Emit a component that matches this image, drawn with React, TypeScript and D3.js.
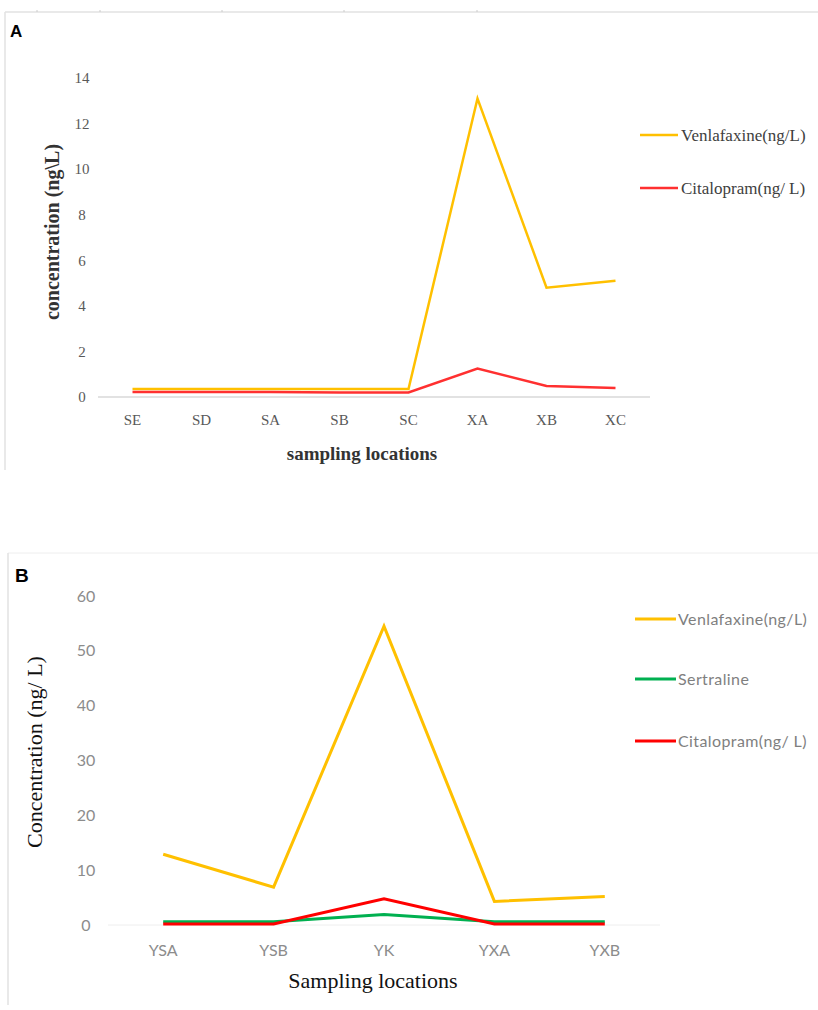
import React, { useEffect, useRef } from 'react';
import * as d3 from 'd3';

const width = 818;
const height = 1010;

// panel A data
const sitesA = ['SE', 'SD', 'SA', 'SB', 'SC', 'XA', 'XB', 'XC'];
const venlafaxineA = [0.35, 0.35, 0.35, 0.35, 0.35, 13.1, 4.8, 5.1];
const citalopramA = [0.22, 0.22, 0.22, 0.2, 0.2, 1.25, 0.48, 0.4];
const ticksA = [0, 2, 4, 6, 8, 10, 12, 14];

// panel B data
const sitesB = ['YSA', 'YSB', 'YK', 'YXA', 'YXB'];
const venlafaxineB = [12.9, 6.9, 54.5, 4.3, 5.2];
const sertralineB = [0.6, 0.6, 1.9, 0.6, 0.6];
const citalopramB = [0.2, 0.2, 4.8, 0.2, 0.2];
const ticksB = [0, 10, 20, 30, 40, 50, 60];

const App = () => {
  const ref = useRef<SVGSVGElement>(null);

  useEffect(() => {
    if (!ref.current) return;
    const svg = d3.select(ref.current);
    svg.selectAll('*').remove();

    // frame lines
    svg.append('line').attr('x1', 5).attr('x2', width).attr('y1', 12).attr('y2', 12)
      .attr('stroke', '#e2e2e2').attr('stroke-width', 1.5);
    svg.append('line').attr('x1', 5).attr('x2', 5).attr('y1', 12).attr('y2', 470)
      .attr('stroke', '#e2e2e2').attr('stroke-width', 1.5);
    [37, 100, 222, 344, 477].forEach(x => {
      svg.append('line').attr('x1', x).attr('x2', x).attr('y1', 10).attr('y2', 12)
        .attr('stroke', '#cccccc');
    });
    svg.append('line').attr('x1', 8).attr('x2', width).attr('y1', 553).attr('y2', 553)
      .attr('stroke', '#eeeeee').attr('stroke-width', 1);
    svg.append('line').attr('x1', 8).attr('x2', 8).attr('y1', 553).attr('y2', 1005)
      .attr('stroke', '#e2e2e2').attr('stroke-width', 1.5);

    // ---------- Panel A ----------
    svg.append('text').attr('x', 10).attr('y', 37).text('A')
      .attr('font-family', 'Liberation Sans, Arial, sans-serif').attr('font-weight', 'bold')
      .attr('font-size', 17);

    const xA = d3.scaleBand().domain(sitesA).range([98, 650]);
    const yA = d3.scaleLinear().domain([0, 14]).range([397, 78]);

    svg.append('line').attr('x1', 98).attr('x2', 650).attr('y1', yA(0)).attr('y2', yA(0))
      .attr('stroke', '#d9d9d9').attr('stroke-width', 1.5);

    const gA = svg.append('g').attr('font-family', 'Liberation Serif, serif')
      .attr('font-size', 15).attr('fill', '#595959');
    gA.selectAll('text.ty').data(ticksA).enter().append('text')
      .attr('x', 82).attr('y', d => yA(d)).attr('dy', '0.35em')
      .attr('text-anchor', 'middle').text(d => d);
    gA.selectAll('text.tx').data(sitesA).enter().append('text')
      .attr('x', d => (xA(d) as number) + xA.bandwidth() / 2).attr('y', 420)
      .attr('dy', '0.35em').attr('text-anchor', 'middle').text(d => d);

    const lineA = d3.line<number>()
      .x((d, i) => (xA(sitesA[i]) as number) + xA.bandwidth() / 2)
      .y(d => yA(d));
    svg.append('path').attr('d', lineA(venlafaxineA)).attr('fill', 'none')
      .attr('stroke', '#ffc000').attr('stroke-width', 2.5);
    svg.append('path').attr('d', lineA(citalopramA)).attr('fill', 'none')
      .attr('stroke', '#ff3030').attr('stroke-width', 2.5);

    svg.append('text').attr('transform', 'translate(59,232) rotate(-90)')
      .attr('text-anchor', 'middle').text('concentration (ng\\L)')
      .attr('font-family', 'Liberation Serif, serif').attr('font-weight', 'bold')
      .attr('font-size', 20).attr('fill', '#333333');
    svg.append('text').attr('x', 362).attr('y', 460).attr('text-anchor', 'middle')
      .text('sampling locations')
      .attr('font-family', 'Liberation Serif, serif').attr('font-weight', 'bold')
      .attr('font-size', 19).attr('fill', '#333333');

    const legA = [
      { name: 'Venlafaxine(ng/L)', color: '#ffc000', y: 135 },
      { name: 'Citalopram(ng/ L)', color: '#ff3030', y: 188 },
    ];
    legA.forEach(l => {
      svg.append('line').attr('x1', 640).attr('x2', 678).attr('y1', l.y).attr('y2', l.y)
        .attr('stroke', l.color).attr('stroke-width', 2.5);
      svg.append('text').attr('x', 681).attr('y', l.y).attr('dy', '0.35em').text(l.name)
        .attr('font-family', 'Liberation Serif, serif').attr('font-size', 17)
        .attr('fill', '#404040');
    });

    // ---------- Panel B ----------
    svg.append('text').attr('x', 15).attr('y', 582).text('B')
      .attr('font-family', 'Liberation Sans, Arial, sans-serif').attr('font-weight', 'bold')
      .attr('font-size', 19);

    const xB = d3.scaleBand().domain(sitesB).range([108, 660]);
    const yB = d3.scaleLinear().domain([0, 60]).range([925, 596]);

    svg.append('line').attr('x1', 108).attr('x2', 660).attr('y1', yB(0)).attr('y2', yB(0))
      .attr('stroke', '#eeeeee').attr('stroke-width', 1);

    const gB = svg.append('g').attr('font-family', 'Lato, sans-serif')
      .attr('font-size', 16).attr('fill', '#8c8c8c');
    gB.selectAll('text.ty').data(ticksB).enter().append('text')
      .attr('x', 86).attr('y', d => yB(d)).attr('dy', '0.35em')
      .attr('text-anchor', 'middle').text(d => d);
    gB.selectAll('text.tx').data(sitesB).enter().append('text')
      .attr('x', d => (xB(d) as number) + xB.bandwidth() / 2).attr('y', 950)
      .attr('dy', '0.35em').attr('text-anchor', 'middle').text(d => d);

    const lineB = d3.line<number>()
      .x((d, i) => (xB(sitesB[i]) as number) + xB.bandwidth() / 2)
      .y(d => yB(d));
    svg.append('path').attr('d', lineB(venlafaxineB)).attr('fill', 'none')
      .attr('stroke', '#ffc000').attr('stroke-width', 3);
    svg.append('path').attr('d', lineB(sertralineB)).attr('fill', 'none')
      .attr('stroke', '#00b050').attr('stroke-width', 3);
    svg.append('path').attr('d', lineB(citalopramB)).attr('fill', 'none')
      .attr('stroke', '#ff0000').attr('stroke-width', 3);

    svg.append('text').attr('transform', 'translate(42,752) rotate(-90)')
      .attr('text-anchor', 'middle').text('Concentration (ng/ L)')
      .attr('font-family', 'Liberation Serif, serif').attr('font-size', 22).attr('fill', '#111');
    svg.append('text').attr('x', 373).attr('y', 988).attr('text-anchor', 'middle')
      .text('Sampling locations')
      .attr('font-family', 'Liberation Serif, serif').attr('font-size', 22).attr('fill', '#111');

    const legB = [
      { name: 'Venlafaxine(ng/L)', color: '#ffc000', y: 619 },
      { name: 'Sertraline', color: '#00b050', y: 679 },
      { name: 'Citalopram(ng/ L)', color: '#ff0000', y: 741 },
    ];
    legB.forEach(l => {
      svg.append('line').attr('x1', 635).attr('x2', 676).attr('y1', l.y).attr('y2', l.y)
        .attr('stroke', l.color).attr('stroke-width', 3);
      svg.append('text').attr('x', 678).attr('y', l.y).attr('dy', '0.35em').text(l.name)
        .attr('font-family', 'Lato, sans-serif').attr('font-size', 16)
        .attr('fill', '#7f7f7f').attr('letter-spacing', 0.4);
    });
  }, []);

  return (
    <svg ref={ref} width={width} height={height}
      style={{ position: 'absolute', left: 0, top: 0, background: '#fff' }} />
  );
};

export default App;
